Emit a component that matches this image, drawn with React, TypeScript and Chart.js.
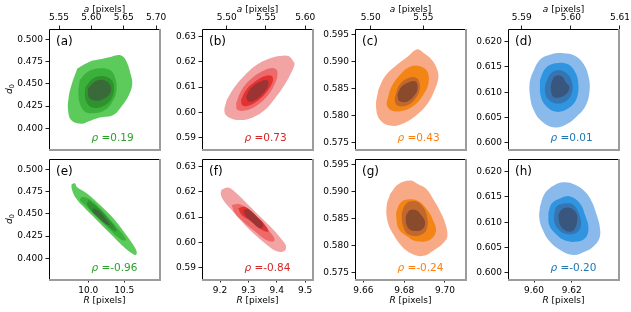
import React, { useEffect, useRef } from 'react';
import { Chart, registerables } from 'chart.js';

Chart.register(...registerables);

type Pt = [number, number];

const panelLetters = ['(a)', '(b)', '(c)', '(d)', '(e)', '(f)', '(g)', '(h)'];
const rhoLabels = ['0.19', '0.73', '0.43', '0.01', '-0.96', '-0.84', '-0.24', '-0.20'];
const xTitleVars = ['a', 'a', 'a', 'a', 'R', 'R', 'R', 'R'];

const xLimits: Pt[] = [
  [5.5345, 5.706], [5.4685, 5.61], [5.4851, 5.5905], [5.5872, 5.6098],
  [9.454, 10.996], [9.1365, 9.528], [9.6559, 9.7103], [9.5862, 9.6451],
];
const yLimits: Pt[] = [
  [0.3767, 0.5116], [0.5855, 0.633], [0.5738, 0.5961], [0.59875, 0.6225],
  [0.3767, 0.5116], [0.5855, 0.633], [0.5738, 0.5961], [0.59875, 0.6225],
];

const xTicks: number[][] = [
  [5.55, 5.6, 5.65, 5.7], [5.5, 5.55, 5.6], [5.5, 5.55], [5.59, 5.6, 5.61],
  [10.0, 10.5], [9.2, 9.3, 9.4, 9.5], [9.66, 9.68, 9.7], [9.6, 9.62],
];
const xDecimals = [2, 2, 2, 2, 1, 1, 2, 2];
const yTicks: number[][] = [
  [0.4, 0.425, 0.45, 0.475, 0.5], [0.59, 0.6, 0.61, 0.62, 0.63], [0.575, 0.58, 0.585, 0.59, 0.595], [0.6, 0.605, 0.61, 0.615, 0.62],
  [0.4, 0.425, 0.45, 0.475, 0.5], [0.59, 0.6, 0.61, 0.62, 0.63], [0.575, 0.58, 0.585, 0.59, 0.595], [0.6, 0.605, 0.61, 0.615, 0.62],
];
const yDecimals = [3, 2, 3, 3, 3, 2, 3, 3];

// Filled density contours, outermost level first
const contoursA: Pt[][] = [
  [[5.578, 0.467], [5.598, 0.475], [5.613, 0.4775], [5.631, 0.4805], [5.645, 0.482], [5.653, 0.4768], [5.661, 0.46], [5.663, 0.449], [5.657, 0.436], [5.647, 0.425], [5.634, 0.415], [5.613, 0.412], [5.595, 0.4075], [5.585, 0.405], [5.569, 0.409], [5.564, 0.42], [5.5645, 0.433], [5.569, 0.448]],
  [[5.582, 0.4543], [5.595, 0.4637], [5.613, 0.4674], [5.629, 0.4655], [5.636, 0.4581], [5.639, 0.4449], [5.634, 0.4318], [5.621, 0.4206], [5.603, 0.4169], [5.59, 0.4187], [5.582, 0.4281], [5.58, 0.4412]],
  [[5.591, 0.4468], [5.603, 0.4562], [5.618, 0.4588], [5.631, 0.4543], [5.635, 0.4449], [5.63, 0.4318], [5.616, 0.4243], [5.6, 0.4236], [5.592, 0.43], [5.59, 0.4386]],
  [[5.595, 0.4449], [5.605, 0.4524], [5.618, 0.4543], [5.629, 0.4487], [5.629, 0.4393], [5.618, 0.4326], [5.605, 0.4311], [5.596, 0.4348]],
];
const contoursB: Pt[][] = [
  [[5.5, 0.6049], [5.5106, 0.6102], [5.5234, 0.6148], [5.5383, 0.6188], [5.5553, 0.6214], [5.5681, 0.6223], [5.5787, 0.6223], [5.5851, 0.6201], [5.5864, 0.6188], [5.5808, 0.6148], [5.5723, 0.6102], [5.5617, 0.6056], [5.5489, 0.601], [5.534, 0.5981], [5.517, 0.597], [5.5021, 0.5981], [5.497, 0.6003]],
  [[5.5119, 0.6036], [5.5191, 0.6089], [5.5319, 0.6135], [5.5468, 0.6165], [5.5596, 0.6175], [5.5647, 0.6161], [5.5617, 0.6115], [5.5511, 0.6062], [5.5362, 0.6023], [5.5234, 0.6007], [5.5136, 0.601]],
  [[5.5183, 0.6049], [5.5247, 0.6089], [5.5362, 0.6122], [5.5489, 0.6144], [5.5574, 0.6144], [5.5587, 0.6122], [5.5511, 0.6082], [5.5383, 0.6043], [5.5264, 0.6025], [5.5196, 0.6029]],
  [[5.5247, 0.6062], [5.5306, 0.6095], [5.5404, 0.6118], [5.5511, 0.6128], [5.5532, 0.6109], [5.5468, 0.6076], [5.5362, 0.6049], [5.5277, 0.6043]],
];
const contoursC: Pt[][] = [
  [[5.5073, 0.5848], [5.5136, 0.5873], [5.5247, 0.5894], [5.5358, 0.5911], [5.5437, 0.5923], [5.55, 0.5917], [5.5579, 0.5904], [5.5627, 0.5888], [5.5642, 0.587], [5.5601, 0.5845], [5.5532, 0.582], [5.5437, 0.5801], [5.5326, 0.5787], [5.5199, 0.5781], [5.5089, 0.5792], [5.5051, 0.5817]],
  [[5.5158, 0.5829], [5.5199, 0.5854], [5.5279, 0.5876], [5.5373, 0.5891], [5.5468, 0.5892], [5.5538, 0.5882], [5.5548, 0.586], [5.55, 0.5839], [5.5405, 0.5818], [5.5279, 0.5808], [5.5184, 0.5811], [5.5152, 0.582]],
  [[5.5231, 0.5835], [5.5272, 0.5857], [5.5358, 0.587], [5.5437, 0.587], [5.5468, 0.5854], [5.5437, 0.5835], [5.5358, 0.582], [5.5263, 0.5818], [5.5231, 0.5826]],
  [[5.5253, 0.5839], [5.5294, 0.5854], [5.5373, 0.5863], [5.543, 0.5863], [5.5443, 0.5848], [5.5405, 0.5835], [5.5342, 0.5826], [5.5272, 0.5827]],
];
const contoursD: Pt[][] = [
  [[5.592, 0.6134], [5.5937, 0.6164], [5.5961, 0.6175], [5.5985, 0.6177], [5.6008, 0.6172], [5.6025, 0.6157], [5.6036, 0.6131], [5.6038, 0.6101], [5.6029, 0.6071], [5.6012, 0.6052], [5.5992, 0.6037], [5.5968, 0.603], [5.5941, 0.6042], [5.5924, 0.6065], [5.5917, 0.6091], [5.5916, 0.6118]],
  [[5.5937, 0.6124], [5.5948, 0.6147], [5.5968, 0.6157], [5.5992, 0.6156], [5.6008, 0.6141], [5.6015, 0.6118], [5.6012, 0.6088], [5.5995, 0.6068], [5.5971, 0.6061], [5.5951, 0.6071], [5.5939, 0.6091]],
  [[5.5949, 0.6118], [5.5959, 0.6137], [5.5975, 0.6144], [5.5992, 0.6137], [5.6002, 0.6121], [5.6002, 0.6098], [5.5988, 0.6081], [5.5968, 0.6078], [5.5952, 0.6088], [5.5947, 0.6104]],
  [[5.5961, 0.6121], [5.5968, 0.6132], [5.5981, 0.6132], [5.599, 0.6119], [5.5997, 0.611], [5.5992, 0.6098], [5.5978, 0.609], [5.5964, 0.6091], [5.5959, 0.6108]],
];
const contoursE: Pt[][] = [
  [[9.7685, 0.4835], [9.8148, 0.4843], [9.838, 0.4805], [9.9769, 0.473], [10.1621, 0.4599], [10.3473, 0.4449], [10.5093, 0.4281], [10.6251, 0.415], [10.6714, 0.4075], [10.6621, 0.4038], [10.6019, 0.4056], [10.4862, 0.4131], [10.301, 0.4281], [10.1158, 0.4431], [9.9306, 0.4581], [9.8148, 0.4693], [9.7685, 0.4787]],
  [[9.9074, 0.4693], [10.0, 0.4674], [10.1621, 0.4562], [10.3473, 0.4393], [10.4862, 0.4262], [10.5232, 0.4206], [10.463, 0.4206], [10.301, 0.4318], [10.1158, 0.4468], [9.9537, 0.4599], [9.8843, 0.4655]],
  [[10.0, 0.4655], [10.1158, 0.4581], [10.2547, 0.4468], [10.3936, 0.4318], [10.3704, 0.43], [10.2547, 0.4375], [10.0926, 0.4487], [9.9861, 0.4599]],
  [[10.0695, 0.4562], [10.1621, 0.4524], [10.2547, 0.4431], [10.301, 0.4375], [10.2315, 0.4393], [10.1389, 0.4468], [10.0602, 0.4524]],
];
const contoursF: Pt[][] = [
  [[9.2059, 0.6209], [9.2294, 0.6217], [9.2588, 0.6193], [9.3, 0.6148], [9.3412, 0.6102], [9.3882, 0.605], [9.4176, 0.6011], [9.4329, 0.5985], [9.4258, 0.5965], [9.4, 0.5965], [9.3647, 0.5991], [9.3235, 0.603], [9.2823, 0.6076], [9.2412, 0.6128], [9.2118, 0.6167], [9.2024, 0.6193]],
  [[9.2412, 0.6148], [9.2706, 0.6151], [9.3117, 0.6115], [9.3529, 0.6069], [9.3882, 0.6024], [9.3905, 0.6004], [9.3647, 0.6008], [9.3235, 0.6043], [9.2823, 0.6082], [9.2529, 0.6115]],
  [[9.2647, 0.6135], [9.2882, 0.6141], [9.3235, 0.6108], [9.3588, 0.6069], [9.3705, 0.6043], [9.347, 0.605], [9.3117, 0.6082], [9.2764, 0.6108]],
  [[9.2823, 0.6128], [9.3, 0.6131], [9.3294, 0.6102], [9.3529, 0.6069], [9.3412, 0.6056], [9.3117, 0.6082], [9.2882, 0.6108]],
];
const contoursG: Pt[][] = [
  [[9.6731, 0.5896], [9.6771, 0.5914], [9.6829, 0.5921], [9.6869, 0.5914], [9.691, 0.5905], [9.6943, 0.5886], [9.6976, 0.5864], [9.7, 0.5843], [9.7012, 0.5818], [9.6992, 0.5805], [9.6951, 0.5793], [9.6894, 0.5781], [9.6837, 0.5785], [9.6788, 0.5799], [9.6747, 0.5821], [9.6718, 0.5846], [9.6714, 0.5874]],
  [[9.676, 0.5861], [9.678, 0.5879], [9.682, 0.5886], [9.6869, 0.5883], [9.691, 0.5868], [9.6943, 0.5846], [9.6956, 0.5827], [9.6927, 0.5811], [9.6861, 0.5808], [9.6812, 0.5818], [9.6771, 0.5833]],
  [[9.6788, 0.5861], [9.6809, 0.5878], [9.6845, 0.5883], [9.6881, 0.5877], [9.691, 0.5858], [9.691, 0.583], [9.6874, 0.5819], [9.682, 0.5821], [9.6793, 0.5838]],
  [[9.6809, 0.5856], [9.6829, 0.5866], [9.6858, 0.5866], [9.6883, 0.5857], [9.6902, 0.5844], [9.6891, 0.5831], [9.6858, 0.5827], [9.6824, 0.5831], [9.6809, 0.5843]],
];
const contoursH: Pt[][] = [
  [[9.6032, 0.6131], [9.6058, 0.6157], [9.6112, 0.6174], [9.6165, 0.6179], [9.6218, 0.6174], [9.6271, 0.616], [9.6306, 0.6141], [9.6333, 0.6114], [9.635, 0.6088], [9.6347, 0.6068], [9.6315, 0.6052], [9.6271, 0.6042], [9.6209, 0.6035], [9.6138, 0.6045], [9.6085, 0.6061], [9.6046, 0.6085], [9.6028, 0.6108]],
  [[9.6076, 0.6118], [9.6094, 0.6137], [9.6138, 0.6147], [9.6191, 0.6151], [9.6244, 0.6137], [9.6271, 0.6114], [9.6289, 0.6088], [9.6271, 0.6068], [9.6218, 0.6061], [9.6156, 0.6065], [9.6112, 0.6078], [9.6081, 0.6094]],
  [[9.6106, 0.6114], [9.612, 0.6131], [9.6165, 0.6137], [9.6209, 0.6134], [9.6241, 0.6114], [9.6248, 0.6091], [9.6218, 0.6078], [9.6165, 0.6077], [9.6124, 0.6088], [9.6108, 0.6101]],
  [[9.6129, 0.6114], [9.6147, 0.6125], [9.6182, 0.6129], [9.6218, 0.6121], [9.623, 0.6108], [9.6218, 0.6088], [9.6191, 0.6081], [9.6156, 0.6086], [9.6135, 0.6098]],
];
const panelContours = [contoursA, contoursB, contoursC, contoursD, contoursE, contoursF, contoursG, contoursH];

const greenShades = ['#5ccb5c', '#3bb13b', '#2e922e', '#3a6a3a'];
const redShades = ['#f2a3a3', '#ee6a6a', '#e33232', '#9c3434'];
const orangeShades = ['#f8aa86', '#f38416', '#c2682c', '#8a4a2c'];
const blueShades = ['#8ab9ec', '#2f95e0', '#3775b2', '#38567e'];
const panelShades = [greenShades, redShades, orangeShades, blueShades, greenShades, redShades, orangeShades, blueShades];
const rhoColors = ['#2ca02c', '#d62728', '#ff7f0e', '#1f77b4', '#2ca02c', '#d62728', '#ff7f0e', '#1f77b4'];

const FONT = '"DejaVu Sans", "Liberation Sans", sans-serif';
const colLefts = [0, 157, 310, 463];

function Panel({ index }: { index: number }) {
  const ref = useRef<HTMLCanvasElement>(null);
  const row = index < 4 ? 0 : 1;
  const col = index % 4;
  const yAxisW = col === 0 ? 49 : 45;
  const width = yAxisW + 111 + 10;
  const height = row === 0 ? 160 : 162;
  const left = colLefts[col];
  const top = row === 0 ? 0 : 150;

  useEffect(() => {
    const canvas = ref.current;
    if (!canvas) return;
    const contours = panelContours[index];
    const shades = panelShades[index];
    const datasets = contours.map((poly, lvl) => ({
      data: [...poly, poly[0]].map(([x, y]) => ({ x, y })),
      showLine: true,
      fill: 'shape',
      backgroundColor: shades[lvl],
      borderColor: 'rgba(0,0,0,0)',
      borderWidth: 0,
      pointRadius: 0,
      pointHoverRadius: 0,
      tension: 0.4,
      order: contours.length - lvl,
    }));

    const decorPlugin = {
      id: 'decor' + index,
      afterDraw(chart: any) {
        const { ctx, chartArea: ca } = chart;
        ctx.save();
        // spines
        ctx.strokeStyle = '#000';
        ctx.lineWidth = 1;
        ctx.beginPath();
        ctx.moveTo(ca.left + 0.5, ca.bottom + 1);
        ctx.lineTo(ca.left + 0.5, ca.top + 0.5);
        ctx.lineTo(ca.right, ca.top + 0.5);
        ctx.stroke();
        ctx.fillStyle = '#9c9c9c';
        ctx.fillRect(ca.right - 1, ca.top, 2, ca.bottom - ca.top + 2);
        ctx.fillRect(ca.left, ca.bottom, ca.right - ca.left + 1, 2);

        // panel letter
        ctx.fillStyle = '#000';
        ctx.font = `12px ${FONT}`;
        ctx.textAlign = 'left';
        ctx.textBaseline = 'middle';
        ctx.fillText(panelLetters[index], ca.left + 7, ca.top + 12.5);

        // correlation
        const rx = ca.left + 42.5;
        const ry = ca.bottom - 10.5;
        ctx.fillStyle = rhoColors[index];
        ctx.font = `italic 10.5px ${FONT}`;
        ctx.fillText('ρ', rx, ry);
        const rw = ctx.measureText('ρ').width;
        ctx.font = `10.5px ${FONT}`;
        ctx.fillText(' =' + rhoLabels[index], rx + rw, ry);

        // x title
        ctx.fillStyle = '#000';
        const cx = (ca.left + ca.right) / 2;
        const ty = row === 0 ? 9.5 : 151;
        ctx.font = `italic 9px ${FONT}`;
        const v = xTitleVars[index];
        const vw = ctx.measureText(v).width;
        ctx.font = `9px ${FONT}`;
        const rest = ' [pixels]';
        const restW = ctx.measureText(rest).width;
        const sx = cx - (vw + restW) / 2;
        ctx.font = `italic 9px ${FONT}`;
        ctx.fillText(v, sx, ty);
        ctx.font = `9px ${FONT}`;
        ctx.fillText(rest, sx + vw, ty);

        // y title
        if (col === 0) {
          ctx.translate(10.5, (ca.top + ca.bottom) / 2);
          ctx.rotate(-Math.PI / 2);
          ctx.font = `italic 9px ${FONT}`;
          const dw = ctx.measureText('d').width;
          ctx.font = `6.5px ${FONT}`;
          const zw = ctx.measureText('0').width;
          const st = -(dw + zw) / 2;
          ctx.font = `italic 9px ${FONT}`;
          ctx.fillText('d', st, -1);
          ctx.font = `6.5px ${FONT}`;
          ctx.fillText('0', st + dw, 1.5);
        }
        ctx.restore();
      },
    };

    const chart = new Chart(canvas, {
      type: 'scatter',
      data: { datasets: datasets as any },
      options: {
        animation: false,
        responsive: false,
        devicePixelRatio: 1,
        events: [],
        layout: { padding: { left: 0, right: 10, top: row === 0 ? 0 : 9, bottom: row === 0 ? 11 : 0 } },
        plugins: { legend: { display: false }, tooltip: { enabled: false } },
        scales: {
          x: {
            type: 'linear',
            position: row === 0 ? 'top' : 'bottom',
            min: xLimits[index][0],
            max: xLimits[index][1],
            afterBuildTicks: (s: any) => {
              s.ticks = xTicks[index].map((value) => ({ value }));
            },
            afterFit: (s: any) => {
              s.height = row === 0 ? 29 : 33;
              s.paddingLeft = 0;
              s.paddingRight = 0;
            },
            ticks: {
              autoSkip: false,
              maxRotation: 0,
              padding: 2.5,
              color: '#000',
              font: { family: FONT, size: 9 },
              callback: (val: any) => Number(val).toFixed(xDecimals[index]),
            },
            grid: { display: true, drawOnChartArea: false, drawTicks: true, tickLength: 3.5, tickColor: '#222', tickWidth: 1 },
            border: { display: false },
          },
          y: {
            type: 'linear',
            position: 'left',
            min: yLimits[index][0],
            max: yLimits[index][1],
            afterBuildTicks: (s: any) => {
              s.ticks = yTicks[index].map((value) => ({ value }));
            },
            afterFit: (s: any) => {
              s.width = yAxisW;
              s.paddingTop = 0;
              s.paddingBottom = 0;
            },
            ticks: {
              autoSkip: false,
              padding: 2.5,
              color: '#000',
              font: { family: FONT, size: 9 },
              callback: (val: any) => Number(val).toFixed(yDecimals[index]),
            },
            grid: { display: true, drawOnChartArea: false, drawTicks: true, tickLength: 3.5, tickColor: '#222', tickWidth: 1 },
            border: { display: false },
          },
        },
      },
      plugins: [decorPlugin],
    });
    return () => chart.destroy();
  }, [index]);

  return (
    <canvas
      ref={ref}
      width={width}
      height={height}
      style={{ position: 'absolute', left, top, width, height }}
    />
  );
}

export default function App() {
  useEffect(() => {
    document.body.style.margin = '0';
  }, []);
  return (
    <div style={{ position: 'fixed', left: 0, top: 0, width: 631, height: 312, background: '#fff' }}>
      {[0, 1, 2, 3, 4, 5, 6, 7].map((i) => (
        <Panel key={i} index={i} />
      ))}
    </div>
  );
}
